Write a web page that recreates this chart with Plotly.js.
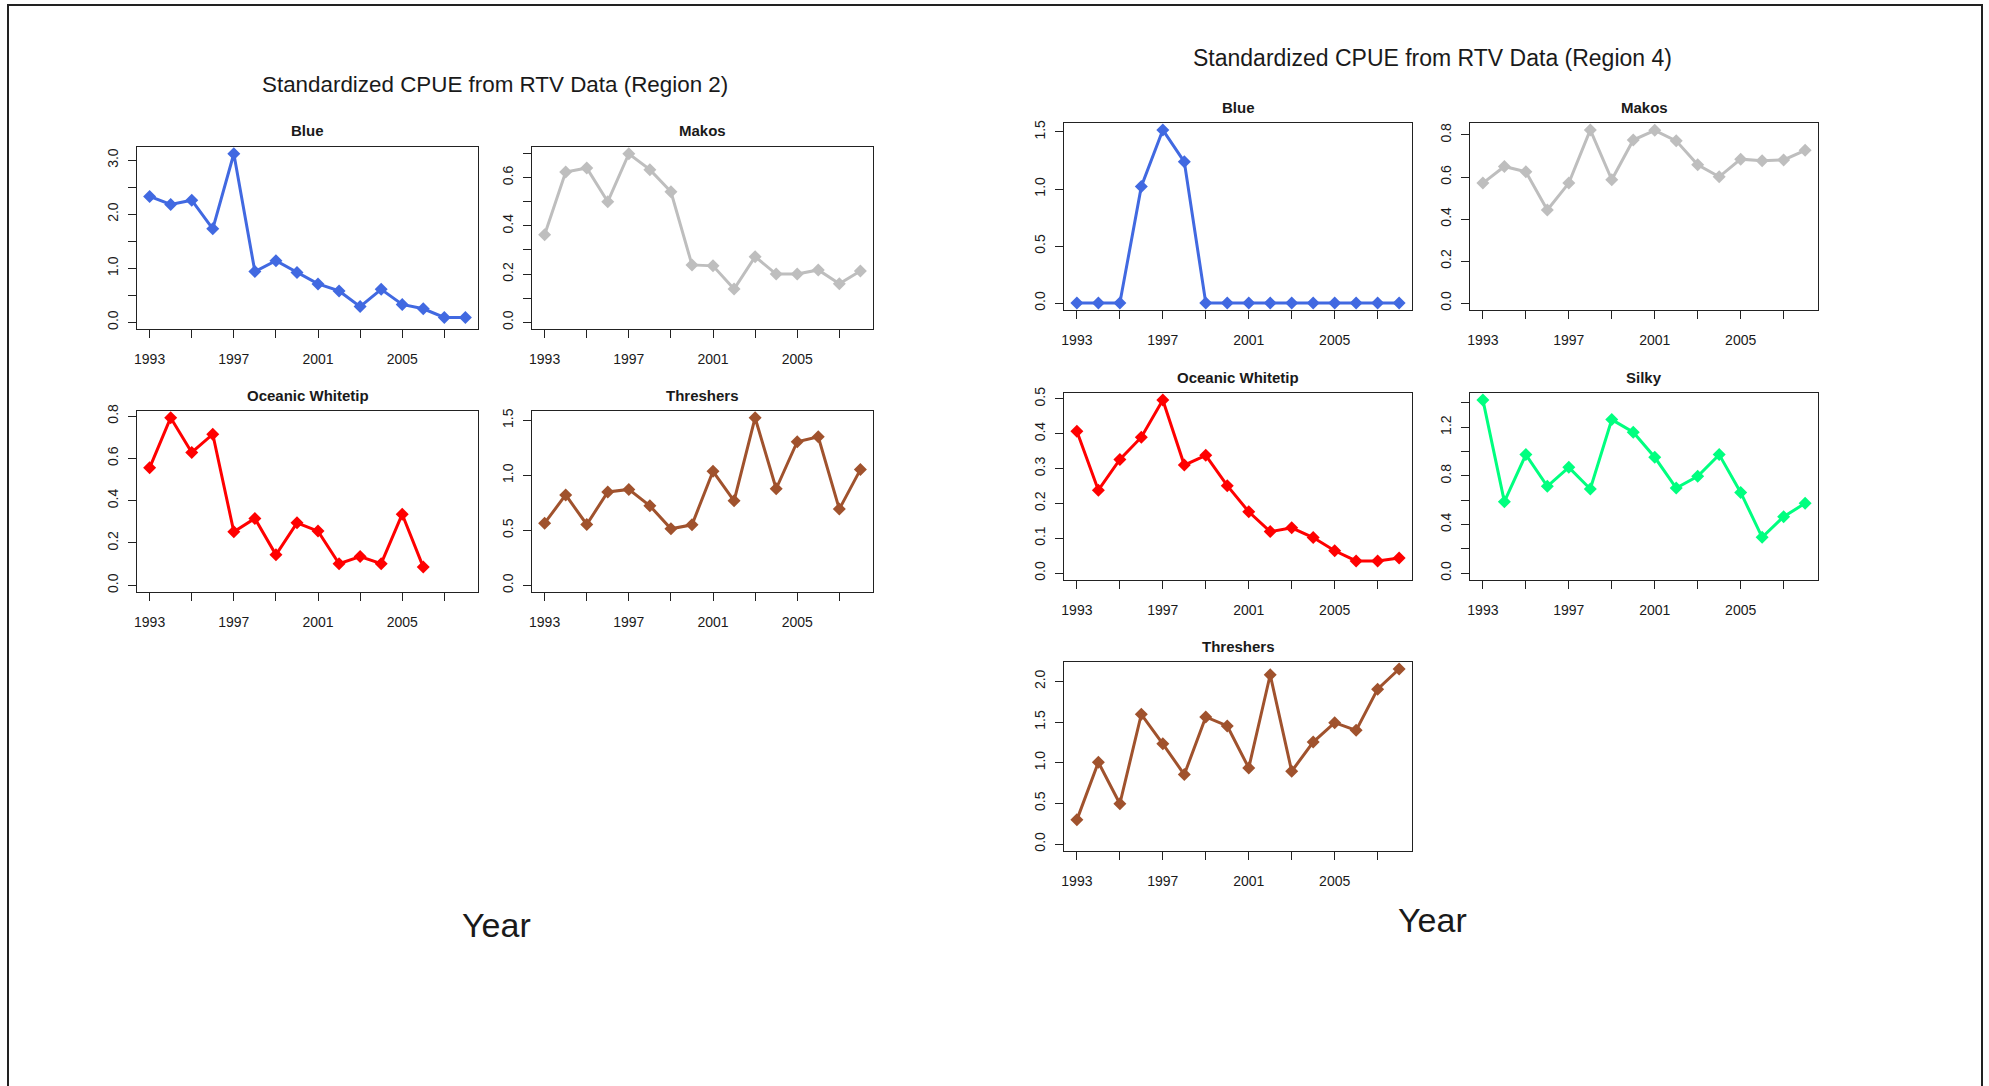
<!DOCTYPE html>
<html>
<head>
<meta charset="utf-8">
<script src="https://cdn.plot.ly/plotly-3.0.1.min.js"></script>
<style>
html,body{margin:0;padding:0;background:#fff;}
#chart{width:1989px;height:1086px;}
</style>
</head>
<body>
<div id="chart"></div>
<script>
// ---------- DATA ----------
const years = [1993,1994,1995,1996,1997,1998,1999,2000,2001,2002,2003,2004,2005,2006,2007,2008];

const r2Blue   = [2.33,2.18,2.26,1.73,3.12,0.94,1.14,0.92,0.71,0.58,0.29,0.61,0.33,0.25,0.09,0.09];
const r2Makos  = [0.363,0.623,0.640,0.500,0.699,0.633,0.541,0.238,0.234,0.138,0.272,0.200,0.200,0.217,0.160,0.213];
const r2OW     = [0.555,0.792,0.628,0.714,0.253,0.316,0.144,0.295,0.256,0.102,0.136,0.102,0.336,0.086,null,null];
const r2Thr    = [0.565,0.822,0.553,0.849,0.872,0.723,0.514,0.550,1.037,0.768,1.524,0.878,1.306,1.350,0.693,1.052];

const r4Blue   = [0,0,0,1.022,1.518,1.238,0,0,0,0,0,0,0,0,0,0];
const r4Makos  = [0.571,0.650,0.625,0.443,0.571,0.824,0.587,0.776,0.822,0.772,0.658,0.601,0.685,0.677,0.681,0.727];
const r4OW     = [0.407,0.238,0.326,0.390,0.497,0.310,0.338,0.251,0.176,0.119,0.130,0.102,0.064,0.035,0.035,0.043];
const r4Silky  = [1.425,0.588,0.975,0.714,0.870,0.692,1.263,1.159,0.953,0.700,0.796,0.975,0.664,0.294,0.464,0.574];
const r4Thr    = [0.297,1.006,0.495,1.596,1.233,0.854,1.563,1.452,0.936,2.082,0.895,1.254,1.493,1.398,1.905,2.153];

// tick labels
const xTickVals = [1993,1995,1997,1999,2001,2003,2005,2007];
const xTickText = ['1993','','1997','','2001','','2005',''];

const yTicksHalf3   = [0,0.5,1,1.5,2,2.5,3];
const yTextHalf3    = ['0.0','','1.0','','2.0','','3.0'];
const yTicksTenth7  = [0,0.1,0.2,0.3,0.4,0.5,0.6,0.7];
const yTextTenth7   = ['0.0','','0.2','','0.4','','0.6',''];
const yTicksFifth8  = [0,0.2,0.4,0.6,0.8];
const yTextFifth8   = ['0.0','0.2','0.4','0.6','0.8'];
const yTicksHalf15  = [0,0.5,1,1.5];
const yTextHalf15   = ['0.0','0.5','1.0','1.5'];
const yTicksTenth5  = [0,0.1,0.2,0.3,0.4,0.5];
const yTextTenth5   = ['0.0','0.1','0.2','0.3','0.4','0.5'];
const yTicksFifth14 = [0,0.2,0.4,0.6,0.8,1.0,1.2,1.4];
const yTextFifth14  = ['0.0','','0.4','','0.8','','1.2',''];
const yTicksHalf2   = [0,0.5,1,1.5,2];
const yTextHalf2    = ['0.0','0.5','1.0','1.5','2.0'];

const titleR2 = 'Standardized CPUE from RTV Data (Region 2)';
const titleR4 = 'Standardized CPUE from RTV Data (Region 4)';
const xLabel = 'Year';

// ---------- LAYOUT ----------
const W = 1989, H = 1086;
const FONT = 'Arial, "Liberation Sans", Helvetica, sans-serif';
const INK = '#1a1a1a';

const panels = [
  {y: r2Blue,  name:'Blue',             color:'#4169E1', box:[137,147,478,329], tv:yTicksHalf3,   tt:yTextHalf3},
  {y: r2Makos, name:'Makos',            color:'#BEBEBE', box:[532,147,873,329], tv:yTicksTenth7,  tt:yTextTenth7},
  {y: r2OW,    name:'Oceanic Whitetip', color:'#FF0000', box:[137,411,478,592], tv:yTicksFifth8,  tt:yTextFifth8},
  {y: r2Thr,   name:'Threshers',        color:'#A0522D', box:[532,411,873,592], tv:yTicksHalf15,  tt:yTextHalf15},
  {y: r4Blue,  name:'Blue',             color:'#4169E1', box:[1064,123,1412,310], tv:yTicksHalf15, tt:yTextHalf15},
  {y: r4Makos, name:'Makos',            color:'#BEBEBE', box:[1470,123,1818,310], tv:yTicksFifth8, tt:yTextFifth8},
  {y: r4OW,    name:'Oceanic Whitetip', color:'#FF0000', box:[1064,393,1412,580], tv:yTicksTenth5, tt:yTextTenth5},
  {y: r4Silky, name:'Silky',            color:'#00FF7F', box:[1470,393,1818,580], tv:yTicksFifth14, tt:yTextFifth14},
  {y: r4Thr,   name:'Threshers',        color:'#A0522D', box:[1064,662,1412,851], tv:yTicksHalf2,  tt:yTextHalf2}
];

const traces = [];
const layout = {
  width: W, height: H,
  margin: {l:0, r:0, t:0, b:0},
  paper_bgcolor: '#ffffff',
  plot_bgcolor: '#ffffff',
  showlegend: false,
  font: {family: FONT, color: INK, size: 14},
  annotations: [],
  shapes: [
    {type:'rect', xref:'paper', yref:'paper',
     x0: 8/W, x1: 1982/W, y0: -0.02, y1: 1 - 5/H,
     line:{color:'#222', width:2}, fillcolor:'rgba(0,0,0,0)'}
  ]
};

const xmin = years[0], xmax = years[years.length-1];
const xpad = (xmax - xmin) * 0.04;

panels.forEach((p, i) => {
  const n = i + 1;
  const xa = 'xaxis' + (n === 1 ? '' : n);
  const ya = 'yaxis' + (n === 1 ? '' : n);
  const xr = 'x' + (n === 1 ? '' : n);
  const yr = 'y' + (n === 1 ? '' : n);
  const [l, t, r, b] = p.box;
  const ymax = Math.max(...p.y.filter(v => v !== null));
  traces.push({
    type: 'scatter', mode: 'lines+markers',
    x: years, y: p.y, xaxis: xr, yaxis: yr,
    line: {color: p.color, width: 3},
    marker: {color: p.color, symbol: 'diamond', size: 10},
    connectgaps: false, hoverinfo: 'x+y'
  });
  const common = {
    showline: true, mirror: true, linecolor: '#222', linewidth: 1.3,
    ticks: 'outside', ticklen: 8, tickwidth: 1.2, tickcolor: '#222',
    showgrid: false, zeroline: false, fixedrange: true,
    tickfont: {family: FONT, size: 14, color: INK}
  };
  layout[xa] = Object.assign({}, common, {
    domain: [l / W, r / W], anchor: yr,
    range: [xmin - xpad, xmax + xpad],
    tickmode: 'array', tickvals: xTickVals, ticktext: xTickText,
    ticklabelstandoff: 9
  });
  layout[ya] = Object.assign({}, common, {
    domain: [1 - b / H, 1 - t / H], anchor: xr,
    range: [-0.04 * ymax, 1.04 * ymax],
    tickmode: 'array', tickvals: p.tv, ticktext: p.tt,
    tickangle: -90, ticklabelstandoff: 4
  });
  layout.annotations.push({
    xref: 'paper', yref: 'paper',
    x: (l + r) / 2 / W, y: 1 - (t - 16) / H,
    xanchor: 'center', yanchor: 'middle', showarrow: false,
    text: '<b>' + p.name + '</b>',
    font: {family: FONT, size: 15, color: INK}
  });
});

// main titles and x-axis labels
layout.annotations.push(
  {xref:'paper', yref:'paper', x: 495/W, y: 1 - 85/H, xanchor:'center', yanchor:'middle',
   showarrow:false, text: titleR2, font:{family:FONT, size:22.4, color:INK}},
  {xref:'paper', yref:'paper', x: 1432/W, y: 1 - 58/H, xanchor:'center', yanchor:'middle',
   showarrow:false, text: titleR4, font:{family:FONT, size:23, color:INK}},
  {xref:'paper', yref:'paper', x: 496/W, y: 1 - 925/H, xanchor:'center', yanchor:'middle',
   showarrow:false, text: xLabel, font:{family:FONT, size:34, color:INK}},
  {xref:'paper', yref:'paper', x: 1432/W, y: 1 - 920/H, xanchor:'center', yanchor:'middle',
   showarrow:false, text: xLabel, font:{family:FONT, size:34, color:INK}}
);

Plotly.newPlot('chart', traces, layout, {staticPlot: false, displayModeBar: false, responsive: false});
</script>
</body>
</html>
